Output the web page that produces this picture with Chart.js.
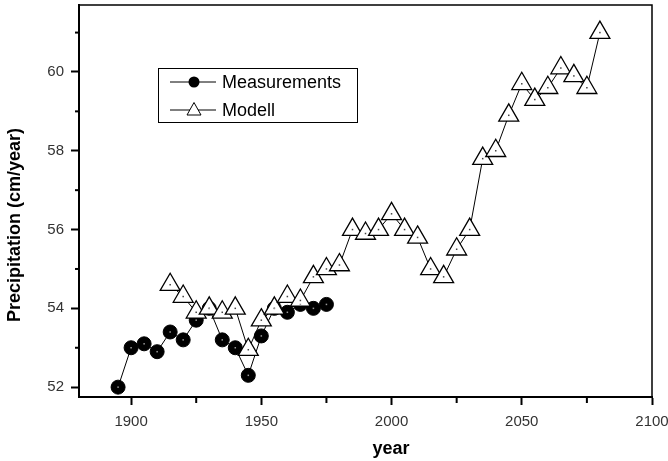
<!DOCTYPE html>
<html>
<head>
<meta charset="utf-8">
<script src="https://cdn.jsdelivr.net/npm/chart.js@4.4.1/dist/chart.umd.min.js"></script>
<style>
  html, body { margin: 0; padding: 0; background: #fff; }
  #wrap { width: 668px; height: 461px; }
</style>
</head>
<body>
<div id="wrap"><canvas id="chart" width="668" height="461"></canvas></div>
<script>
// Measured precipitation, every 5 years
const measYears = [1895, 1900, 1905, 1910, 1915, 1920, 1925, 1930, 1935, 1940, 1945, 1950, 1955, 1960, 1965, 1970, 1975];
const measValues = [52.0, 53.0, 53.1, 52.9, 53.4, 53.2, 53.7, 54.0, 53.2, 53.0, 52.3, 53.3, 54.0, 53.9, 54.1, 54.0, 54.1];

// Model output
const modelYears = [1915, 1920, 1925, 1930, 1935, 1940, 1945, 1950, 1955, 1960, 1965, 1970, 1975, 1980, 1985, 1990, 1995,
    2000, 2005, 2010, 2015, 2020, 2025, 2030, 2035, 2040, 2045, 2050, 2055, 2060, 2065, 2070, 2075, 2080];
const modelValues = [54.6, 54.3, 53.9, 54.0, 53.9, 54.0, 52.95, 53.7, 54.0, 54.3, 54.2, 54.8, 55.0, 55.1, 56.0, 55.9, 56.0,
    56.4, 56.0, 55.8, 55.0, 54.8, 55.5, 56.0, 57.8, 58.0, 58.9, 59.7, 59.3, 59.6, 60.1, 59.9, 59.6, 61.0];

// Axis ticks
const xTicks = [1900, 1925, 1950, 1975, 2000, 2025, 2050, 2075, 2100];
const xLabelTicks = [1900, 1950, 2000, 2050, 2100];
const yTicks = [52, 53, 54, 55, 56, 57, 58, 59, 60, 61];
const yLabelTicks = [52, 54, 56, 58, 60];

const seriesNames = ['Measurements', 'Modell'];

function toPoints(xs, ys) {
    return xs.map((x, i) => ({ x: x, y: ys[i] }));
}

// Frame, minor ticks, small centre dots, axis titles and the legend box
const extrasPlugin = {
    id: 'extras',
    afterDatasetsDraw(chart) {
        const ctx = chart.ctx;
        ctx.save();
        // little dots in the middle of each marker
        chart.getDatasetMeta(0).data.forEach(p => {
            ctx.fillStyle = '#444';
            ctx.fillRect(p.x - 0.75, p.y - 0.75, 1.5, 1.5);
        });
        chart.getDatasetMeta(1).data.forEach(p => {
            ctx.fillStyle = '#999';
            ctx.fillRect(p.x - 0.75, p.y - 0.75, 1.5, 1.5);
        });
        ctx.restore();
    },
    afterDraw(chart) {
        const ctx = chart.ctx;
        const area = chart.chartArea;
        const xs = chart.scales.x;
        const ys = chart.scales.y;
        ctx.save();

        // top and right sides of the frame
        ctx.strokeStyle = '#000';
        ctx.lineWidth = 1.5;
        ctx.beginPath();
        ctx.moveTo(area.left, area.top);
        ctx.lineTo(area.right, area.top);
        ctx.lineTo(area.right, area.bottom);
        ctx.stroke();

        // shorter minor ticks
        ctx.lineWidth = 2;
        xTicks.filter(v => !xLabelTicks.includes(v)).forEach(v => {
            const px = xs.getPixelForValue(v);
            ctx.beginPath();
            ctx.moveTo(px, area.bottom);
            ctx.lineTo(px, area.bottom + 6);
            ctx.stroke();
        });
        yTicks.filter(v => !yLabelTicks.includes(v)).forEach(v => {
            const py = ys.getPixelForValue(v);
            ctx.beginPath();
            ctx.moveTo(area.left, py);
            ctx.lineTo(area.left - 4, py);
            ctx.stroke();
        });

        // axis titles
        ctx.fillStyle = '#000';
        ctx.font = 'bold 18px "Liberation Sans", Arial, sans-serif';
        ctx.textAlign = 'center';
        ctx.textBaseline = 'middle';
        ctx.fillText('year', 391, 449);
        ctx.translate(15, 225);
        ctx.rotate(-Math.PI / 2);
        ctx.fillText('Precipitation (cm/year)', 0, 0);
        ctx.setTransform(1, 0, 0, 1, 0, 0);

        // legend
        const lx = 158, ly = 68, lw = 199, lh = 54;
        ctx.lineWidth = 1;
        ctx.strokeStyle = '#000';
        ctx.strokeRect(lx + 0.5, ly + 0.5, lw, lh);
        const rows = [ly + 14, ly + 42];
        rows.forEach((ry, i) => {
            ctx.beginPath();
            ctx.moveTo(170, ry);
            ctx.lineTo(216, ry);
            ctx.stroke();
            if (i === 0) {
                ctx.fillStyle = '#000';
                ctx.beginPath();
                ctx.arc(194, ry, 5.5, 0, Math.PI * 2);
                ctx.fill();
            } else {
                ctx.fillStyle = '#fff';
                ctx.beginPath();
                ctx.moveTo(194, ry - 7.5);
                ctx.lineTo(201, ry + 5);
                ctx.lineTo(187, ry + 5);
                ctx.closePath();
                ctx.fill();
                ctx.stroke();
            }
            ctx.fillStyle = '#000';
            ctx.font = '18px "Liberation Sans", Arial, sans-serif';
            ctx.textAlign = 'left';
            ctx.textBaseline = 'middle';
            ctx.fillText(seriesNames[i], 222, ry + 1);
        });
        ctx.restore();
    }
};

const tickFont = { family: '"Liberation Sans", Arial, sans-serif', size: 15 };

new Chart(document.getElementById('chart'), {
    type: 'line',
    data: {
        datasets: [
            {
                label: seriesNames[1],
                data: toPoints(modelYears, modelValues),
                borderColor: '#000',
                borderWidth: 1,
                pointStyle: 'triangle',
                pointRadius: 11.5,
                pointBackgroundColor: '#fff',
                pointBorderColor: '#000',
                pointBorderWidth: 1.3,
                tension: 0
            },
            {
                label: seriesNames[0],
                data: toPoints(measYears, measValues),
                borderColor: '#000',
                borderWidth: 1,
                pointStyle: 'circle',
                pointRadius: 7,
                pointBackgroundColor: '#000',
                pointBorderColor: '#000',
                pointBorderWidth: 1,
                tension: 0
            }
        ]
    },
    options: {
        responsive: false,
        animation: false,
        layout: { autoPadding: false, padding: { top: 5, right: 16, left: 0, bottom: 0 } },
        plugins: {
            legend: { display: false },
            tooltip: { enabled: false }
        },
        scales: {
            x: {
                type: 'linear',
                min: 1880,
                max: 2100,
                afterBuildTicks: scale => { scale.ticks = xTicks.map(v => ({ value: v })); },
                afterFit: scale => { scale.height = 64; scale.paddingLeft = 0; scale.paddingRight = 0; },
                ticks: {
                    autoSkip: false,
                    maxRotation: 0,
                    padding: 8,
                    color: '#333',
                    font: tickFont,
                    callback: v => xLabelTicks.includes(v) ? String(v) : ''
                },
                grid: {
                    drawOnChartArea: false,
                    tickLength: 8,
                    tickWidth: 2,
                    tickColor: c => (c.tick && xLabelTicks.includes(c.tick.value)) ? '#000' : 'rgba(0,0,0,0)'
                },
                border: { color: '#000', width: 2 }
            },
            y: {
                min: 51.75,
                max: 61.7,
                afterBuildTicks: scale => { scale.ticks = yTicks.map(v => ({ value: v })); },
                afterFit: scale => { scale.width = 79; scale.paddingTop = 0; scale.paddingBottom = 0; },
                ticks: {
                    padding: 7,
                    color: '#333',
                    font: tickFont,
                    callback: v => yLabelTicks.includes(v) ? String(v) : ''
                },
                grid: {
                    drawOnChartArea: false,
                    tickLength: 8,
                    tickWidth: 2,
                    tickColor: c => (c.tick && yLabelTicks.includes(c.tick.value)) ? '#000' : 'rgba(0,0,0,0)'
                },
                border: { color: '#000', width: 2 }
            }
        }
    },
    plugins: [extrasPlugin]
});
</script>
</body>
</html>
